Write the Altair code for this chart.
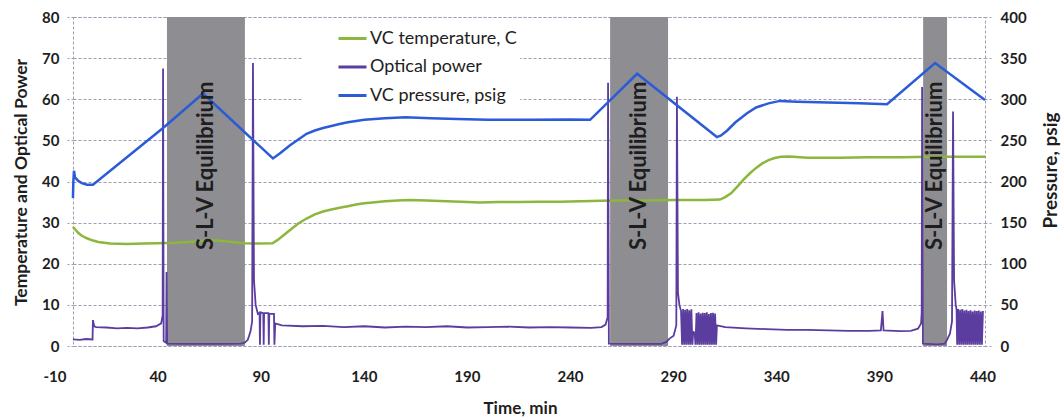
import altair as alt
import pandas as pd

FONT = "Lato"

series_names = ["VC temperature, C", "Optical power", "VC pressure, psig"]
series_colors = ["#8db63c", "#5a3d9e", "#2b5bd7"]

x_ticks = [-10, 40, 90, 140, 190, 240, 290, 340, 390, 440]
left_ticks = [0, 10, 20, 30, 40, 50, 60, 70, 80]
right_ticks = [0, 50, 100, 150, 200, 250, 300, 350, 400]

band_start = [44.3, 259.2, 411.0]
band_end = [82.1, 287.3, 422.6]
band_text = "S-L-V Equilibrium"

temp_t = [-1.3, 0, 1.5, 3, 5.5, 8, 11, 16.7, 25, 33, 40, 48, 55, 60, 64, 70, 76, 82, 88, 95.5,
          98, 101, 104, 108, 112, 116, 120, 124, 128, 132, 136, 140, 144, 150, 156, 162, 170,
          180, 190, 196, 205, 215, 225, 235, 245, 255, 262, 275, 290, 305, 312.5, 315, 318,
          321, 324, 327, 330, 333, 336, 339, 342, 346, 355, 370, 385, 400, 415, 430, 441]
temp_v = [29.0, 28.2, 27.4, 26.8, 26.2, 25.7, 25.3, 24.9, 24.8, 24.9, 25.0, 25.1, 25.3, 25.5,
          25.8, 25.6, 25.3, 25.0, 24.9, 25.0, 25.8, 27.0, 28.2, 29.8, 31.0, 32.0, 32.7, 33.2,
          33.6, 34.0, 34.4, 34.7, 34.9, 35.2, 35.4, 35.5, 35.4, 35.2, 35.0, 34.9, 35.0, 35.0,
          35.1, 35.1, 35.2, 35.3, 35.4, 35.4, 35.5, 35.5, 35.6, 36.2, 37.2, 38.8, 40.5, 42.0,
          43.3, 44.4, 45.2, 45.7, 46.0, 46.1, 45.8, 45.8, 45.9, 45.9, 46.0, 46.0, 46.0]

pres_t = [-1.3, -1.1, -0.8, -0.3, 1.2, 3, 5.5, 8.4, 42.4, 61.8, 95.7, 99, 104, 108, 112,
          116, 120, 124, 128, 132, 140, 150, 160, 172, 185, 200, 220, 240, 249.5, 272.3, 311,
          313, 316, 320, 325.6, 330, 336, 341.6, 350, 365, 380, 393.5, 416.8, 441]
pres_v = [180, 200, 213, 205, 201, 198, 196, 196, 265, 307, 228, 234, 244, 251, 258,
          262, 265, 267.5, 270, 272, 275, 277, 278, 277, 276, 275, 275, 275.5, 275, 331, 254,
          256, 262, 272, 283, 290, 295, 298, 297, 296, 295, 294, 344, 299]

power_t = [-1.3, 2, 5, 8.2, 8.4, 9.0, 10, 15, 20, 25, 30, 35, 39, 41.5, 42.2, 42.4, 42.7, 43.9,
           44.1, 44.4, 55, 70, 80, 82, 83.5, 84.8, 85.6, 86.0, 86.5, 87.3, 88.4, 89.2, 89.4,
           89.6, 91.0, 91.2, 91.4, 93.5, 93.7, 93.9, 96.2, 96.4, 96.8, 100, 110, 120, 130, 140,
           150, 160, 170, 180, 190, 200, 210, 220, 230, 240, 250, 255, 257, 258.0, 258.2, 258.6,
           270, 284, 286.5, 288, 290, 291.3, 291.6, 292.1, 292.8, 293.6,
           294.1, 294.6, 295.1, 295.6, 296.1, 296.6, 297.1, 297.6, 298.1, 298.6, 299.1, 299.5,
           300.2, 300.6, 301.1, 301.6, 302.1, 302.6, 303.1, 303.6, 304.1, 304.6, 305.1, 305.6,
           306.1, 306.6, 307.1, 307.6, 308.1, 308.6, 309.1, 309.6, 310.1, 310.6,
           311.0, 315, 325, 335, 345, 355, 365, 375, 385, 390.5, 391.3, 391.8, 400, 405, 408.5,
           410.0, 410.3, 410.5, 410.9, 418, 421.5, 422.6, 424, 425.0, 425.5, 426.0, 426.8, 427.2,
           427.5, 428, 428.5, 429, 429.5, 430, 430.5, 431, 431.5, 432, 432.5, 433, 433.5, 434,
           434.5, 435, 435.5, 436, 436.5, 437, 437.5, 438, 438.5, 439, 439.5, 440]
power_v = [1.6, 1.5, 1.7, 1.6, 6.3, 4.8, 4.6, 4.5, 4.3, 4.4, 4.3, 4.5, 4.8, 5.5, 7.5, 67.5, 1.2,
           0.8, 18, 0.6, 0.5, 0.5, 0.6, 0.8, 1.5, 3.5, 6, 68.8, 16, 10, 7.8, 8, 0.3,
           8.2, 8.0, 0.3, 8.0, 8.0, 0.3, 7.8, 7.8, 0.3, 5.5, 5.0, 4.8, 4.9, 4.6, 4.8,
           4.5, 4.7, 4.6, 4.8, 4.5, 4.6, 4.7, 4.5, 4.6, 4.5, 4.4, 4.6, 5.2, 7, 64, 0.6,
           0.5, 0.5, 1.0, 1.8, 2.5, 5, 60.6, 13, 10, 8.5,
           0.3, 9.0, 0.3, 8.8, 0.3, 9.0, 0.3, 8.7, 0.3, 8.9, 0.3, 3.5,
           3.2, 0.3, 8.0, 0.3, 8.2, 0.3, 7.9, 0.3, 8.1, 0.3, 8.0, 0.3,
           8.2, 0.3, 7.8, 0.3, 8.0, 0.3, 8.1, 0.3, 7.9, 0.3,
           5.0, 4.6, 4.3, 4.1, 3.9, 3.9, 3.8, 3.7, 3.7, 3.8, 8.5, 3.8, 3.6, 3.7, 4.2,
           5.5, 8, 63, 0.6, 0.4, 0.6, 1.5, 3, 6, 57, 16, 10, 9,
           0.3, 9.0, 0.3, 8.8, 0.3, 9.0, 0.3, 8.6, 0.3, 8.8, 0.3, 8.5, 0.3, 8.7,
           0.3, 8.4, 0.3, 8.6, 0.3, 8.5, 0.3, 8.6, 0.3, 8.4, 0.3, 8.5]

LEFT_DOMAIN = [0, 80]
RIGHT_DOMAIN = [0, 400]
X_DOMAIN = [-1.27, 441]
BAND_TEXT_PSIG = 219

PLOT_W, PLOT_H = 912, 329

temp_df = pd.DataFrame({"t": temp_t, "value": temp_v, "series": series_names[0]})
power_df = pd.DataFrame({"t": power_t, "value": power_v, "series": series_names[1]})
pres_df = pd.DataFrame({"t": pres_t, "value": pres_v, "series": series_names[2]})
band_df = pd.DataFrame({
    "t": band_start, "t2": band_end,
    "value": [LEFT_DOMAIN[1]] * 3, "value2": [LEFT_DOMAIN[0]] * 3,
})
text_df = pd.DataFrame({
    "t": [(a + b) / 2 for a, b in zip(band_start, band_end)],
    "value": [BAND_TEXT_PSIG] * 3,
    "label": [band_text] * 3,
})
xtick_df = pd.DataFrame({"t": x_ticks, "label": [str(v) for v in x_ticks]})

GRID = "#9d9db4"
TXT = "#1e1e1e"

x_axis = alt.Axis(values=x_ticks, title="Time, min", grid=False, ticks=False, labels=False,
                  domain=False,
                  titleFont=FONT, titleFontSize=17, titleFontWeight="bold", titleColor=TXT,
                  titleX=447, titleY=62, titleBaseline="middle")
x_enc = alt.X("t:Q", scale=alt.Scale(domain=X_DOMAIN, nice=False, zero=False), axis=x_axis)

left_axis = alt.Axis(values=left_ticks, title="Temperature and Optical Power", grid=True,
                     gridColor=GRID, gridDash=[3, 2], gridWidth=1, domain=False,
                     tickSize=6, tickColor=GRID, tickDash=[2, 2], labelPadding=8,
                     labelFont=FONT, labelFontSize=15, labelFontWeight="bold", labelColor=TXT,
                     titleFont=FONT, titleFontSize=17.5, titleFontWeight="bold", titleColor=TXT,
                     titleAngle=270, titleX=-52, titleY=165, titleBaseline="middle")
right_axis = alt.Axis(values=right_ticks, title="Pressure, psig", orient="right", grid=False,
                      domain=False, tickSize=6, tickColor=GRID, tickDash=[2, 2], labelPadding=9,
                      labelFont=FONT, labelFontSize=15, labelFontWeight="bold", labelColor=TXT,
                      titleFont=FONT, titleFontSize=19, titleFontWeight="bold", titleColor=TXT,
                      titleAngle=270, titleX=65, titleY=153, titleBaseline="middle")

y_left = alt.Y("value:Q", scale=alt.Scale(domain=LEFT_DOMAIN, nice=False), axis=left_axis)
y_right = alt.Y("value:Q", scale=alt.Scale(domain=RIGHT_DOMAIN, nice=False), axis=right_axis)

legend = alt.Legend(orient="none", legendX=230, legendY=3, title=None, symbolType="stroke",
                    symbolSize=784, symbolStrokeWidth=3, labelFont=FONT, labelFontSize=18,
                    labelColor=TXT, fillColor="white", padding=3, symbolOffset=31,
                    labelOffset=2, rowPadding=3.5)
color = alt.Color("series:N", scale=alt.Scale(domain=series_names, range=series_colors),
                  legend=legend)

bands = alt.Chart(band_df).mark_rect(color="#8e8e92").encode(
    x=x_enc, x2="t2:Q", y=y_left, y2="value2:Q")
temp_line = alt.Chart(temp_df).mark_line(strokeWidth=2.5).encode(x=x_enc, y=y_left, color=color)
power_line = alt.Chart(power_df).mark_line(strokeWidth=1.8).encode(x=x_enc, y=y_left, color=color)
xtick_labels = alt.Chart(xtick_df).mark_text(
    font=FONT, fontSize=15, fontWeight="bold", color=TXT, align="center", baseline="middle"
).encode(x=x_enc, y=alt.value(PLOT_H + 31), text="label:N")
pres_line = alt.Chart(pres_df).mark_line(strokeWidth=2.5).encode(x=x_enc, y=y_right, color=color)
band_labels = alt.Chart(text_df).mark_text(
    angle=270, font=FONT, fontSize=22, fontWeight="bold", color=TXT,
    align="center", baseline="middle").encode(x=x_enc, y=y_right, text="label:N")

left_group = alt.layer(bands, temp_line, power_line, xtick_labels)
right_group = alt.layer(pres_line, band_labels)

chart = alt.layer(left_group, right_group).resolve_scale(y="independent").properties(
    width=PLOT_W, height=PLOT_H,
    padding={"left": 73, "top": 17, "right": 76, "bottom": 72},
    autosize=alt.AutoSizeParams(type="none"),
    background="white",
).configure_view(stroke=GRID, strokeDash=[3, 2], strokeWidth=1)

chart.save("out.html", embed_options={"renderer": "svg", "actions": False})
